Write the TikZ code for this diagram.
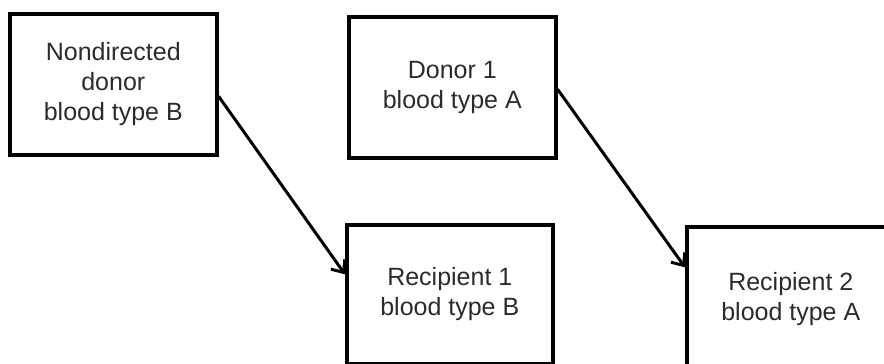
\documentclass[tikz,border=0pt]{standalone}
\usepackage{fontspec}
\setmainfont{Liberation Sans}
\usetikzlibrary{arrows.meta}
\definecolor{texto}{HTML}{2B2B2B}

\begin{document}
\begin{tikzpicture}[x=1pt, y=-1pt, >={Straight Barb[length=10pt,width=17pt]},
      caja/.style={draw=black, line width=3.6pt, anchor=north west, align=center,
                   text=texto, font=\fontsize{25}{30}\selectfont, inner sep=0pt}]
    \useasboundingbox (0,0) rectangle (884,364);
    \clip (0,0) rectangle (884,364);
    \node[caja, minimum width=207pt, minimum height=141pt] (nodir) at (8,12) {Nondirected\\ donor\\ blood type B};
    \node[caja, minimum width=207pt, minimum height=141pt] (don1) at (347,15) {Donor 1\\ blood type A};
    \node[caja, minimum width=206pt, minimum height=139pt] (rec1) at (345,223) {Recipient 1\\ blood type B};
    \node[caja, minimum width=208pt, minimum height=145pt] (rec2) at (685,225) {Recipient 2\\ blood type A};
    \draw[->, line width=3pt] ([yshift=-12pt]nodir.east) -- ([yshift=20pt]rec1.west);
    \draw[->, line width=3pt] ([yshift=-2pt]don1.east) -- ([yshift=32pt]rec2.west);
  \end{tikzpicture}
\end{document}
